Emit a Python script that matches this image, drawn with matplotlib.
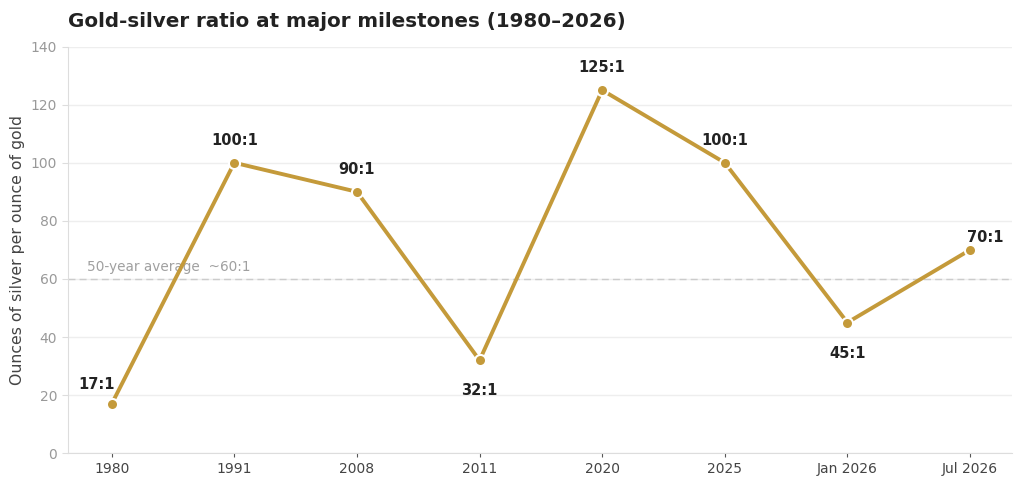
import matplotlib
matplotlib.use('Agg')
import matplotlib.pyplot as plt

# -------------------- DATA --------------------
milestones = ["1980", "1991", "2008", "2011", "2020", "2025", "Jan 2026", "Jul 2026"]
ratios = [17, 100, 90, 32, 125, 100, 45, 70]
labels = ["17:1", "100:1", "90:1", "32:1", "125:1", "100:1", "45:1", "70:1"]
# where each label sits: (dx, dy) in points
offsets = [(-11, 14), (0, 16), (0, 16), (0, -22), (0, 16), (0, 16), (0, -22), (11, 9)]
average = 60

gold = "#C49A3A"

# -------------------- FIGURE --------------------
fig, ax = plt.subplots(figsize=(10.24, 4.9), dpi=100)
fig.subplots_adjust(left=0.066, right=0.988, top=0.905, bottom=0.075)

x = list(range(len(milestones)))

ax.axhline(average, color="#cccccc", linestyle=(0, (5, 3)), linewidth=1, zorder=1)
ax.text(-0.2, average + 1.8, "50-year average  ~60:1", color="#a0a0a0",
        fontsize=9.8, va="bottom", ha="left")

ax.plot(x, ratios, color=gold, linewidth=2.8, marker="o", markersize=8,
        markerfacecolor=gold, markeredgecolor="white", markeredgewidth=1.5, zorder=3)

for xi, yi, lab, (dx, dy) in zip(x, ratios, labels, offsets):
    ax.annotate(lab, (xi, yi), xytext=(dx, dy), textcoords="offset points",
                ha="center", va="center", fontsize=10.5, fontweight="bold", color="#222222")

ax.set_xlim(-0.36, 7.34)
ax.set_ylim(0, 140)
ax.set_yticks(range(0, 141, 20))
ax.set_xticks(x)
ax.set_xticklabels(milestones)

ax.yaxis.grid(True, color="#eeeeee", linewidth=1)
ax.set_axisbelow(True)
for s in ["top", "right"]:
    ax.spines[s].set_visible(False)
for s in ["left", "bottom"]:
    ax.spines[s].set_color("#dddddd")

ax.tick_params(axis="y", colors="#dddddd", labelcolor="#999999", labelsize=10, length=4)
ax.tick_params(axis="x", colors="#555555", labelcolor="#444444", labelsize=10, length=3)

ax.set_ylabel("Ounces of silver per ounce of gold", fontsize=11.3, color="#444444")
ax.set_title("Gold-silver ratio at major milestones (1980\u20132026)", loc="left",
             fontsize=14.3, fontweight="bold", color="#222222", pad=14)

fig.savefig("out.png", dpi=100, facecolor="white")
